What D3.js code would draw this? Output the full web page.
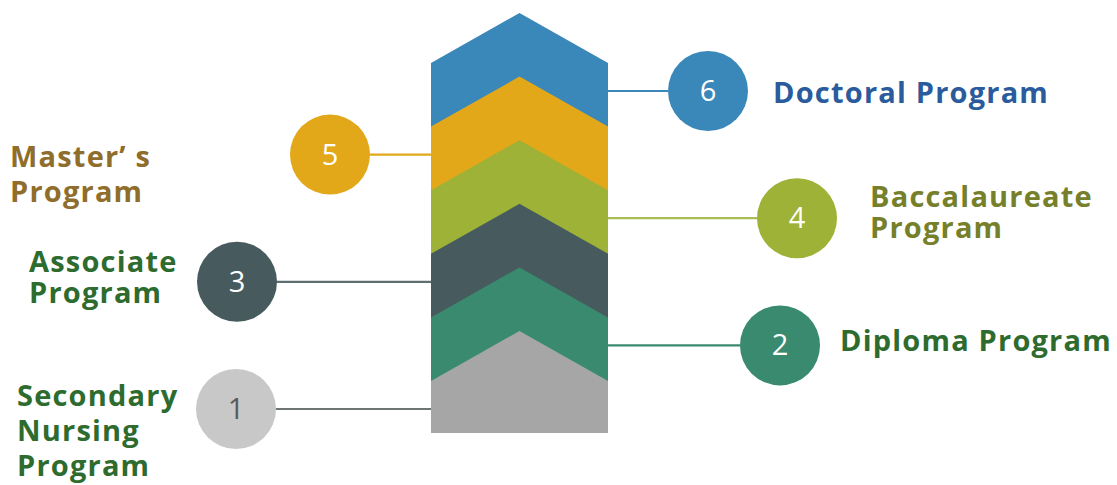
<!DOCTYPE html>
<html>
<head>
<meta charset="utf-8">
<script src="https://cdn.jsdelivr.net/npm/d3@7/dist/d3.min.js"></script>
<style>
  html, body { margin: 0; padding: 0; background: #ffffff; }
  svg { display: block; }
</style>
</head>
<body>
<svg id="chart" width="1117" height="485"></svg>
<script>
// ---- data ----
const levels = [1, 2, 3, 4, 5, 6];
const programs = [
  "Secondary Nursing Program",
  "Diploma Program",
  "Associate Program",
  "Baccalaureate Program",
  "Master’ s Program",
  "Doctoral Program"
];
const labelLines = [
  ["Secondary", "Nursing", "Program"],
  ["Diploma Program"],
  ["Associate", "Program"],
  ["Baccalaureate", "Program"],
  ["Master’ s", "Program"],
  ["Doctoral Program"]
];
const sides = ["left", "right", "left", "right", "left", "right"];

// ---- style / layout (not data) ----
const fillColors   = ["#a6a6a6", "#3a8a6f", "#475b5e", "#9db236", "#e2a819", "#3a87b9"];
const circleColors = ["#c8c8c8", "#3a8a6f", "#475b5e", "#9db236", "#e2a819", "#3a87b9"];
const numberColors = ["#595959", "#ffffff", "#ffffff", "#ffffff", "#ffffff", "#ffffff"];
const lineColors   = ["#6f7475", "#3a8a6f", "#5f6e70", "#a9bd55", "#e2a819", "#3a87b9"];
const textColors   = ["#2e6b2e", "#2e6b2e", "#2e6b2e", "#76802a", "#8f6d2a", "#2a5b9c"];
const connectorLen = [155, 132, 154, 149, 61, 60];
const labelDx = [-219, 60, -208, 73, -320, 65];
const labelDy = [-3, 6, -10, -11, 12, 12];
const lineHeight = [35, 30, 31, 31, 35, 30];

const svg = d3.select("#chart");

const y = d3.scaleLinear().domain([1, 6]).range([409, 91]);
const x = d3.scaleLinear().domain([-1, 1]).range([431, 608]);
const apexOffset = 78, chevronDepth = 50, bottomY = 433, R = 40;

const items = levels.map((lv, i) => ({
  level: lv, name: programs[i], lines: labelLines[i], side: sides[i], i
}));

// chevron stack: draw top level first so lower levels overlap it
const stack = svg.append("g");
items.slice().sort((a, b) => b.level - a.level).forEach(d => {
  const apex = y(d.level) - apexOffset;
  const shoulder = apex + chevronDepth;
  const pts = [
    [x(-1), shoulder], [x(0), apex], [x(1), shoulder],
    [x(1), bottomY], [x(-1), bottomY]
  ];
  stack.append("path")
    .attr("d", d3.line()(pts) + "Z")
    .attr("fill", fillColors[d.i]);
});

// connectors, circles, numbers, labels
const g = svg.append("g").selectAll("g").data(items).join("g");

g.each(function(d) {
  const sel = d3.select(this);
  const cy = y(d.level);
  const edge = d.side === "left" ? x(-1) : x(1);
  const dir = d.side === "left" ? -1 : 1;
  const cx = edge + dir * (connectorLen[d.i] + R);
  sel.append("line")
    .attr("x1", edge).attr("x2", cx - dir * R)
    .attr("y1", cy).attr("y2", cy)
    .attr("stroke", lineColors[d.i]).attr("stroke-width", 2.2);
  sel.append("circle")
    .attr("cx", cx).attr("cy", cy).attr("r", R)
    .attr("fill", circleColors[d.i]);
  sel.append("text")
    .attr("x", cx).attr("y", cy + 10)
    .attr("text-anchor", "middle")
    .attr("font-family", "'Open Sans', sans-serif")
    .attr("font-size", 29)
    .attr("fill", numberColors[d.i])
    .text(d.level);
  const t = sel.append("text")
    .attr("font-family", "'Open Sans', sans-serif")
    .attr("font-weight", 700)
    .attr("font-size", 29)
    .attr("letter-spacing", 1.2)
    .attr("fill", textColors[d.i]);
  d.lines.forEach((ln, k) => {
    t.append("tspan")
      .attr("x", cx + labelDx[d.i])
      .attr("y", cy + labelDy[d.i] + k * lineHeight[d.i])
      .text(ln);
  });
});
</script>
</body>
</html>
